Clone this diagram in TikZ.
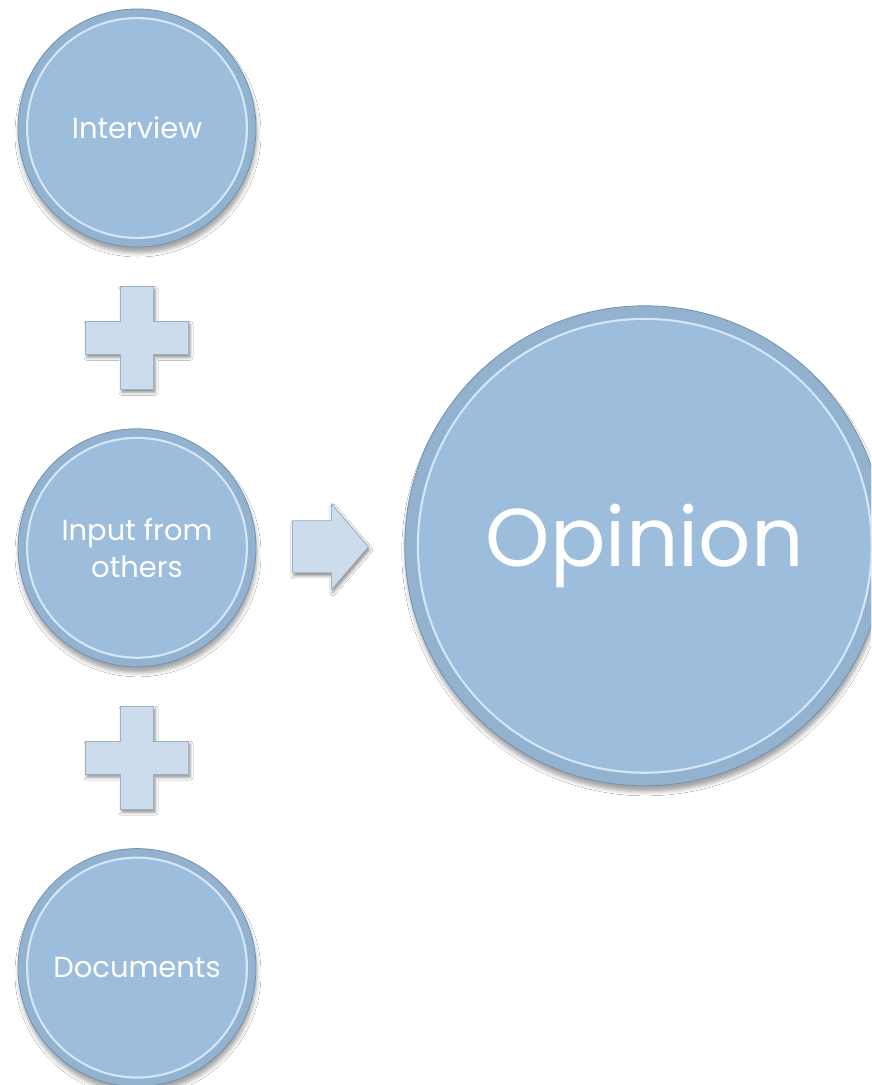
\documentclass[tikz,border=0pt]{standalone}
\usepackage{fontspec}
\setmainfont{Poppins}
\usetikzlibrary{positioning,shadows.blur}
\definecolor{coreblue}{HTML}{9DBDDC}
\definecolor{bandblue}{HTML}{93B2D0}
\definecolor{rimdark}{HTML}{7391AE}
\definecolor{rimlight}{HTML}{D3E7F7}
\definecolor{signfill}{HTML}{CCDCEC}
\definecolor{signedge}{HTML}{9CB0C4}
\begin{document}
\begin{tikzpicture}[x=1pt,y=-1pt,
  bubble/.style args={#1/#2}{circle,inner sep=0pt,minimum size={2*#1pt},fill=bandblue,draw=rimdark,line width=0.8pt,text=white,align=center,
    blur shadow={shadow xshift=1pt,shadow yshift=-6pt,shadow blur radius=4pt,shadow opacity=35},
    path picture={\fill[rimlight] (path picture bounding box.center) circle[radius={(#1-#2)*1pt}];
                  \fill[coreblue] (path picture bounding box.center) circle[radius={(#1-#2-2.2)*1pt}];}},
  small/.style={font=\fontsize{29}{37}\selectfont},
  sign/.style={fill=signfill,draw=signedge,line width=0.8pt,line join=miter,
    blur shadow={shadow xshift=1.5pt,shadow yshift=-3pt,shadow blur radius=3pt,shadow opacity=45}}]
  \useasboundingbox (0,0) rectangle (871,1085);
  \fill[white] (0,0) rectangle (871,1085);
  \clip (0,0) rectangle (871,1085);
  \node[bubble=119/8,small] (interview) at (137,128) {Interview};
  \node[bubble=119/8,small,below=181pt of interview] (input) {Input from\\others};
  \node[bubble=119/8,small,below=181pt of input] (documents) {Documents};
  \node[bubble=240/12,font=\fontsize{82}{88}\selectfont,right=148pt of input,yshift=2pt] (opinion) {Opinion};
  \path (interview) -- coordinate[midway] (plus1) (input);
  \path (input) -- coordinate[midway] (plus2) (documents);
  \path (input.east) -- coordinate[midway] (gap) (opinion.west);
  \foreach \p in {plus1,plus2}
    \path[sign,shift={(\p)}] (-16.5,-51.5) -- (16.5,-51.5) -- (16.5,-16.5) -- (51.5,-16.5) -- (51.5,16.5) -- (16.5,16.5)
      -- (16.5,51.5) -- (-16.5,51.5) -- (-16.5,16.5) -- (-51.5,16.5) -- (-51.5,-16.5) -- (-16.5,-16.5) -- cycle;
  \path[sign,shift={(gap)}] (-38,-26) -- (1,-26) -- (1,-43) -- (38,0) -- (1,43) -- (1,26) -- (-38,26) -- cycle;
\end{tikzpicture}
\end{document}
